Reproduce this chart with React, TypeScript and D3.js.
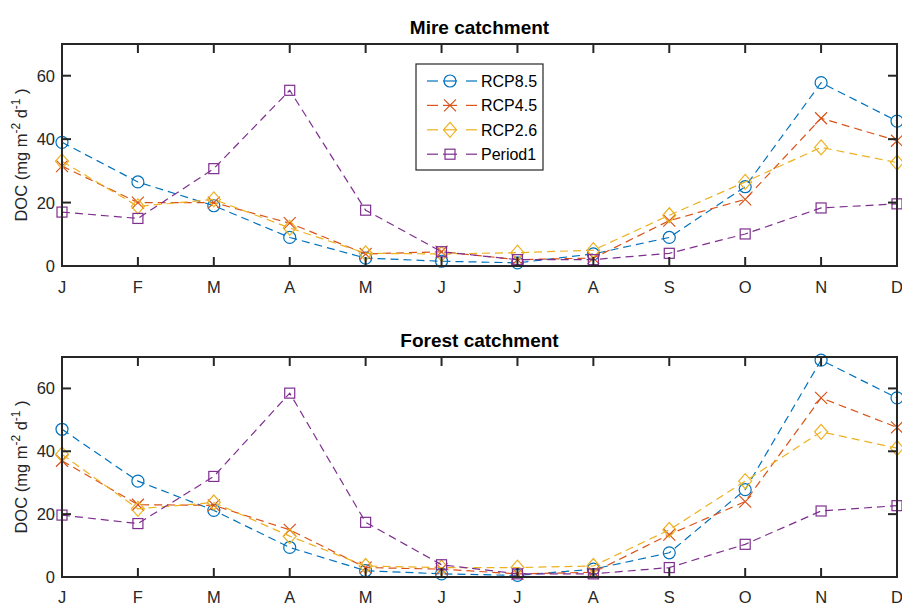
import React from "react";
import * as d3 from "d3";

const months = ["J", "F", "M", "A", "M", "J", "J", "A", "S", "O", "N", "D"];
const yTicks = [0, 20, 40, 60];
const seriesNames = ["RCP8.5", "RCP4.5", "RCP2.6", "Period1"];

// Mire catchment monthly DOC
const mireRcp85 = [39, 26.5, 19, 9, 2.5, 1.5, 1, 3.8, 9, 25, 57.8, 45.7];
const mireRcp45 = [31.5, 20, 20, 13.5, 3.8, 4.5, 2, 2.5, 14.3, 21, 46.6, 39.5];
const mireRcp26 = [33, 18.8, 21, 12, 4, 3.8, 4.2, 5, 16, 26.5, 37.4, 32.6];
const mirePeriod1 = [17, 15, 30.7, 55.4, 17.6, 4.5, 2, 2, 4, 10.1, 18.3, 19.6];

// Forest catchment monthly DOC
const forestRcp85 = [47, 30.5, 21.2, 9.4, 2, 1, 0.5, 2.5, 7.7, 27.8, 69, 57];
const forestRcp45 = [37, 23, 22.8, 15, 3, 2.5, 1, 1.5, 13.5, 24, 57, 47.6];
const forestRcp26 = [39, 21.7, 23.7, 13, 3.5, 3, 3, 3.5, 15, 30.5, 46.2, 41];
const forestPeriod1 = [19.7, 17, 32, 58.5, 17.4, 3.9, 1, 1, 3, 10.4, 21, 22.7];

const colors = ["#0072BD", "#D95319", "#EDB120", "#7E2F8E"];
const markerKinds = ["circle", "x", "diamond", "square"];

const W = 902;
const H = 605;
const left = 62;
const right = 897;
const axisColor = "#262626";
const font = "'Liberation Sans', Arial, Helvetica, sans-serif";

function Marker({ kind, x, y, color }: { kind: string; x: number; y: number; color: string }) {
  const sw = 1.2;
  if (kind === "circle") return <circle cx={x} cy={y} r={6} fill="none" stroke={color} strokeWidth={sw} />;
  if (kind === "x")
    return (
      <path d={`M${x - 6},${y - 6}L${x + 6},${y + 6}M${x - 6},${y + 6}L${x + 6},${y - 6}`} stroke={color} strokeWidth={sw} fill="none" />
    );
  if (kind === "diamond")
    return (
      <path d={`M${x},${y - 7.5}L${x + 6.5},${y}L${x},${y + 7.5}L${x - 6.5},${y}Z`} stroke={color} strokeWidth={sw} fill="none" />
    );
  return <rect x={x - 5} y={y - 5} width={10} height={10} stroke={color} strokeWidth={sw} fill="none" />;
}

function Panel({ title, top, bottom, series, legend }: { title: string; top: number; bottom: number; series: number[][]; legend?: boolean }) {
  const x = d3.scaleLinear().domain([0, months.length - 1]).range([left, right]);
  const y = d3.scaleLinear().domain([0, 70]).range([bottom, top]);
  const line = d3
    .line<number>()
    .x((_, i) => x(i))
    .y((v) => y(v));
  const tickLen = 9;
  const midY = (top + bottom) / 2;
  return (
    <g>
      <rect x={left} y={top} width={right - left} height={bottom - top} fill="#fff" />
      {series.map((vals, s) => (
        <g key={s}>
          <path d={line(vals) || ""} fill="none" stroke={colors[s]} strokeWidth={1.2} strokeDasharray="8,5" />
          {vals.map((v, i) => (
            <Marker key={i} kind={markerKinds[s]} x={x(i)} y={y(v)} color={colors[s]} />
          ))}
        </g>
      ))}
      {/* axis box and ticks */}
      <rect x={left} y={top} width={right - left} height={bottom - top} fill="none" stroke={axisColor} strokeWidth={2} />
      {months.map((m, i) => (
        <g key={i}>
          <line x1={x(i)} x2={x(i)} y1={bottom} y2={bottom - tickLen} stroke={axisColor} strokeWidth={2} />
          <line x1={x(i)} x2={x(i)} y1={top} y2={top + tickLen} stroke={axisColor} strokeWidth={2} />
          <text x={x(i)} y={Math.min(bottom + 27, H - 2)} textAnchor="middle" fontSize={16.5} fill={axisColor} fontFamily={font}>
            {m}
          </text>
        </g>
      ))}
      {yTicks.map((t) => (
        <g key={t}>
          <line x1={left} x2={left + tickLen} y1={y(t)} y2={y(t)} stroke={axisColor} strokeWidth={2} />
          <line x1={right} x2={right - tickLen} y1={y(t)} y2={y(t)} stroke={axisColor} strokeWidth={2} />
          <text x={left - 7} y={y(t) + 6} textAnchor="end" fontSize={16.5} fill={axisColor} fontFamily={font}>
            {t}
          </text>
        </g>
      ))}
      <text x={(left + right) / 2} y={top - 10} textAnchor="middle" fontSize={19} fontWeight="bold" fill="#000" fontFamily={font}>
        {title}
      </text>
      <text transform={`translate(27,${midY}) rotate(-90)`} textAnchor="middle" fontSize={16.5} fill={axisColor} fontFamily={font}>
        DOC (mg m
        <tspan dy={-7} fontSize={12}>-2</tspan>
        <tspan dy={7}> d</tspan>
        <tspan dy={-7} fontSize={12}>-1</tspan>
        <tspan dy={7}> )</tspan>
      </text>
      {legend && (
        <g>
          <rect x={416} y={64} width={127} height={106} fill="#fff" stroke={axisColor} strokeWidth={1.2} />
          {seriesNames.map((name, s) => {
            const ly = 81 + s * 24.4;
            return (
              <g key={name}>
                <line x1={427} x2={438} y1={ly} y2={ly} stroke={colors[s]} strokeWidth={1.2} />
                <line x1={466} x2={477} y1={ly} y2={ly} stroke={colors[s]} strokeWidth={1.2} />
                <line x1={443} x2={457} y1={ly} y2={ly} stroke={colors[s]} strokeWidth={1.2} />
                <Marker kind={markerKinds[s]} x={450} y={ly} color={colors[s]} />
                <text x={481} y={ly + 6} fontSize={16} fill="#000" fontFamily={font}>
                  {name}
                </text>
              </g>
            );
          })}
        </g>
      )}
    </g>
  );
}

export default function App() {
  return (
    <svg width={W} height={H} style={{ position: "absolute", left: 0, top: 0, background: "#fff" }}>
      <rect width={W} height={H} fill="#fff" />
      <Panel title="Mire catchment" top={44} bottom={266} series={[mireRcp85, mireRcp45, mireRcp26, mirePeriod1]} legend />
      <Panel title="Forest catchment" top={357} bottom={577} series={[forestRcp85, forestRcp45, forestRcp26, forestPeriod1]} />
    </svg>
  );
}
